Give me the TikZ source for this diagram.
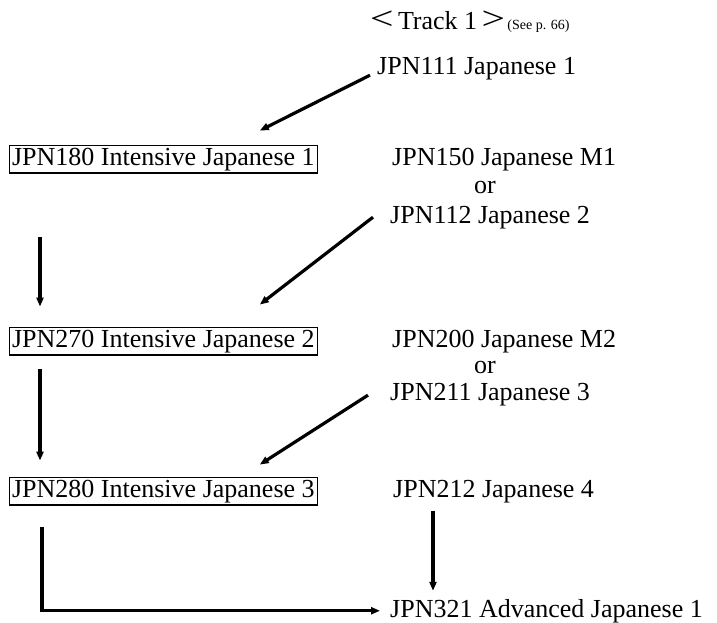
\documentclass[tikz,border=0pt]{standalone}
\usepackage{fontspec}
\setmainfont{Liberation Serif}
\usepackage{graphicx}
\usetikzlibrary{positioning,calc,arrows.meta}
\tikzset{
course/.style={inner sep=0pt,anchor=base west,font=\fontsize{26}{30}\selectfont},
intensive/.style={course,draw=black,line width=1.2pt,inner xsep=2.5pt,inner ysep=2.5pt},
note/.style={inner sep=0pt,anchor=base west,font=\fontsize{14}{16}\selectfont},
flowarrow/.style={-{Triangle[length=9pt,width=7pt]},line width=3.2pt,black}
}
\begin{document}
\begin{tikzpicture}[x=1pt,y=-1pt]
\useasboundingbox (0,0) rectangle (717,622);
\node[course] (track) at (370,29) {\scalebox{1.6}[1.25]{<}\,Track 1\,\scalebox{1.6}[1.25]{>}};
\node[note,right=2pt of track.base east,anchor=base west] (see) {(See p. 66)};
\node[course] (j111) at (377,74) {JPN111 Japanese 1};
\node[intensive] (i180) at (9,165) {JPN180 Intensive Japanese 1};
\node[course] (j150) at (392,165) {JPN150 Japanese M1};
\node[course] (or1) at (474,193) {or};
\node[course] (j112) at (390,223) {JPN112 Japanese 2};
\node[intensive] (i270) at (9,347) {JPN270 Intensive Japanese 2};
\node[course] (j200) at (392,347) {JPN200 Japanese M2};
\node[course] (or2) at (474,373) {or};
\node[course] (j211) at (390,400) {JPN211 Japanese 3};
\node[intensive] (i280) at (9,497) {JPN280 Intensive Japanese 3};
\node[course] (j212) at (393,497) {JPN212 Japanese 4};
\node[course] (j321) at (390,617) {JPN321 Advanced Japanese 1};
% diagonal entries into the intensive track
\draw[flowarrow] ([xshift=-7pt,yshift=-7pt]j111.west) -- ([xshift=-58pt,yshift=14pt]i180.north east);
\draw[flowarrow] ([xshift=-17pt]j112.west) -- ([xshift=-58pt,yshift=22pt]i270.north east);
\draw[flowarrow] ([xshift=-22pt,yshift=-1pt]j211.west) -- ([xshift=-58pt,yshift=12pt]i280.north east);
% down the left side
\draw[flowarrow] ([xshift=31pt,yshift=-63pt]i180.south west) -- ([xshift=31pt,yshift=20pt]i270.north west);
\draw[flowarrow] ([xshift=31pt,yshift=-13pt]i270.south west) -- ([xshift=31pt,yshift=16pt]i280.north west);
\draw[flowarrow] ([xshift=33pt,yshift=-21pt]i280.south west) |- ([xshift=-10pt]j321.west);
\draw[flowarrow] ([xshift=40pt,yshift=-8pt]j212.south west) -- ([xshift=43pt,yshift=8pt]j321.north west);
\end{tikzpicture}
\end{document}
